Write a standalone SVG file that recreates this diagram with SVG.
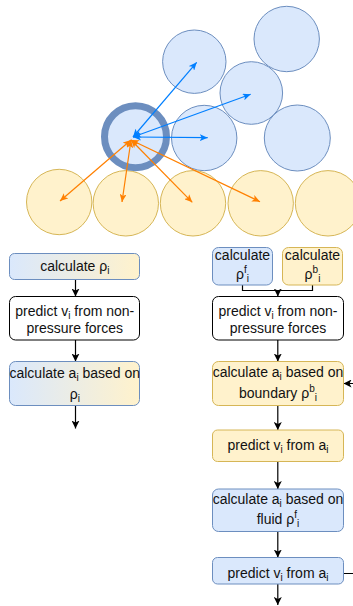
<svg xmlns="http://www.w3.org/2000/svg" width="353" height="606" viewBox="0 0 353 606">
<style>
.bc{fill:#dae8fc;stroke:#6c8ebf;stroke-width:1}
.yc{fill:#fff2cc;stroke:#d6b656;stroke-width:1}
.bl{fill:#dae8fc;stroke:#6c8ebf;stroke-width:1}
.yl{fill:#fff2cc;stroke:#d6b656;stroke-width:1}
.gr{fill:url(#grad);stroke:#6c8ebf;stroke-width:1}
.wh{fill:#ffffff;stroke:#000000;stroke-width:1}
.ba{stroke:#007FFF;stroke-width:1.2;fill:none;marker-start:url(#mb);marker-end:url(#mb)}
.oa{stroke:#FF8000;stroke-width:1.2;fill:none;marker-start:url(#mo);marker-end:url(#mo)}
.fl{stroke:#000000;stroke-width:1.2;fill:none}
.arr{marker-end:url(#mk)}
text{font-family:"Liberation Sans",Arial,Helvetica,sans-serif;font-size:14px;fill:#111;text-anchor:middle}
.s{font-size:10px}
</style>
<defs>
<linearGradient id="grad" x1="0" y1="0" x2="1" y2="0">
<stop offset="0" stop-color="#dae8fc"/>
<stop offset="1" stop-color="#fff2cc"/>
</linearGradient>
<marker id="mb" viewBox="0 0 8 7" refX="8" refY="3.5" markerWidth="8" markerHeight="7" orient="auto-start-reverse" markerUnits="userSpaceOnUse">
<path d="M0,0 L8,3.5 L0,7 L2,3.5 z" fill="#007FFF"/>
</marker>
<marker id="mo" viewBox="0 0 8 7" refX="8" refY="3.5" markerWidth="8" markerHeight="7" orient="auto-start-reverse" markerUnits="userSpaceOnUse">
<path d="M0,0 L8,3.5 L0,7 L2,3.5 z" fill="#FF8000"/>
</marker>
<marker id="mk" viewBox="0 0 8 8" refX="8" refY="4" markerWidth="8" markerHeight="8" orient="auto" markerUnits="userSpaceOnUse">
<path d="M0,0 L8,4 L0,8 L2,4 z" fill="#000000"/>
</marker>
</defs>

<g id="particles">
<circle class="bc" cx="286.7" cy="39" r="32.7"/>
<circle class="bc" cx="194.3" cy="61.7" r="31.7"/>
<circle class="bc" cx="251.3" cy="93" r="31.3"/>
<circle class="bc" cx="204.2" cy="138" r="32.7"/>
<circle class="bc" cx="297.3" cy="138" r="33"/>
<circle class="yc" cx="59.2" cy="202" r="32.7"/>
<circle class="yc" cx="125.8" cy="203.3" r="32.7"/>
<circle class="yc" cx="193" cy="203.3" r="32.7"/>
<circle class="yc" cx="260.7" cy="203.3" r="32.7"/>
<circle class="yc" cx="328" cy="203.3" r="32.7"/>
<circle id="particle-i" cx="135.5" cy="136.7" r="31" fill="#dae8fc" stroke="#6c8ebf" stroke-width="7"/>
</g>

<g id="particle-arrows">
<path class="ba" d="M133,137 L196.7,62.3"/>
<path class="ba" d="M133,137 L250.7,94.3"/>
<path class="ba" d="M133,137 L207.7,137.7"/>
<path class="oa" d="M131,140 L60,201"/>
<path class="oa" d="M131,140 L122,202"/>
<path class="oa" d="M131,140 L192.3,202.3"/>
<path class="oa" d="M131,140 L260,201.7"/>
</g>

<g id="connectors">
<path class="fl arr" d="M75.5,279.5 V296.5"/>
<path class="fl arr" d="M75.5,340 V361.5"/>
<path class="fl arr" d="M75.5,405.5 V428.5"/>
<path class="fl" d="M242.5,285 V290.5 H312.5 V285"/>
<path class="fl arr" d="M277.8,290.5 V296.5"/>
<path class="fl arr" d="M277.8,340 V361.5"/>
<path class="fl arr" d="M277.8,405.5 V430"/>
<path class="fl arr" d="M277.8,461.5 V489"/>
<path class="fl arr" d="M277.8,531.5 V557.5"/>
<path class="fl arr" d="M277.8,584 V605"/>
<path class="fl arr" d="M343.5,573.5 H366 V383.5 H343.5"/>
</g>

<g id="l-calc-rho">
<rect class="gr" x="9.5" y="253.5" width="130" height="26" rx="5"/>
<text x="74.8" y="270.5">calculate ρ<tspan class="s" dy="3">i</tspan></text>
</g>
<g id="l-predict">
<rect class="wh" x="9.5" y="296.5" width="130" height="43.5" rx="6"/>
<text x="74.8" y="315.5">predict v<tspan class="s" dy="3">i</tspan><tspan dy="-3"> from non-</tspan></text>
<text x="74.8" y="333">pressure forces</text>
</g>
<g id="l-calc-a">
<rect class="gr" x="9.5" y="361.5" width="130" height="44" rx="6"/>
<text x="74.8" y="377.5">calculate a<tspan class="s" dy="3">i</tspan><tspan dy="-3"> based on</tspan></text>
<text x="74.8" y="398.5">ρ<tspan class="s" dy="3">i</tspan></text>
</g>

<g id="r-calc-rhof">
<rect class="bl" x="212.5" y="247.5" width="60" height="37.5" rx="6"/>
<text x="242.5" y="260">calculate</text>
<text x="242.5" y="278.5">ρ<tspan class="s" dy="-6">f</tspan><tspan class="s" dy="9">i</tspan></text>
</g>
<g id="r-calc-rhob">
<rect class="yl" x="282.5" y="247.5" width="60" height="37.5" rx="6"/>
<text x="312.5" y="260">calculate</text>
<text x="312.5" y="278.5">ρ<tspan class="s" dy="-6">b</tspan><tspan class="s" dy="9">i</tspan></text>
</g>
<g id="r-predict">
<rect class="wh" x="212.5" y="296.5" width="131" height="43.5" rx="6"/>
<text x="278" y="315.5">predict v<tspan class="s" dy="3">i</tspan><tspan dy="-3"> from non-</tspan></text>
<text x="278" y="333">pressure forces</text>
</g>
<g id="r-calc-a-boundary">
<rect class="yl" x="212.5" y="361.5" width="131" height="44" rx="6"/>
<text x="278" y="377">calculate a<tspan class="s" dy="3">i</tspan><tspan dy="-3"> based on</tspan></text>
<text x="278" y="398">boundary ρ<tspan class="s" dy="-6">b</tspan><tspan class="s" dy="9">i</tspan></text>
</g>
<g id="r-predict-1">
<rect class="yl" x="212.5" y="430" width="131" height="31.5" rx="5"/>
<text x="278" y="450">predict v<tspan class="s" dy="3">i</tspan><tspan dy="-3"> from a</tspan><tspan class="s" dy="3">i</tspan></text>
</g>
<g id="r-calc-a-fluid">
<rect class="bl" x="212.5" y="489" width="131" height="42.5" rx="6"/>
<text x="278" y="504">calculate a<tspan class="s" dy="3">i</tspan><tspan dy="-3"> based on</tspan></text>
<text x="278" y="524">fluid ρ<tspan class="s" dy="-6">f</tspan><tspan class="s" dy="9">i</tspan></text>
</g>
<g id="r-predict-2">
<rect class="bl" x="212.5" y="557.5" width="131" height="26.5" rx="5"/>
<text x="278" y="578">predict v<tspan class="s" dy="3">i</tspan><tspan dy="-3"> from a</tspan><tspan class="s" dy="3">i</tspan></text>
</g>
</svg>
